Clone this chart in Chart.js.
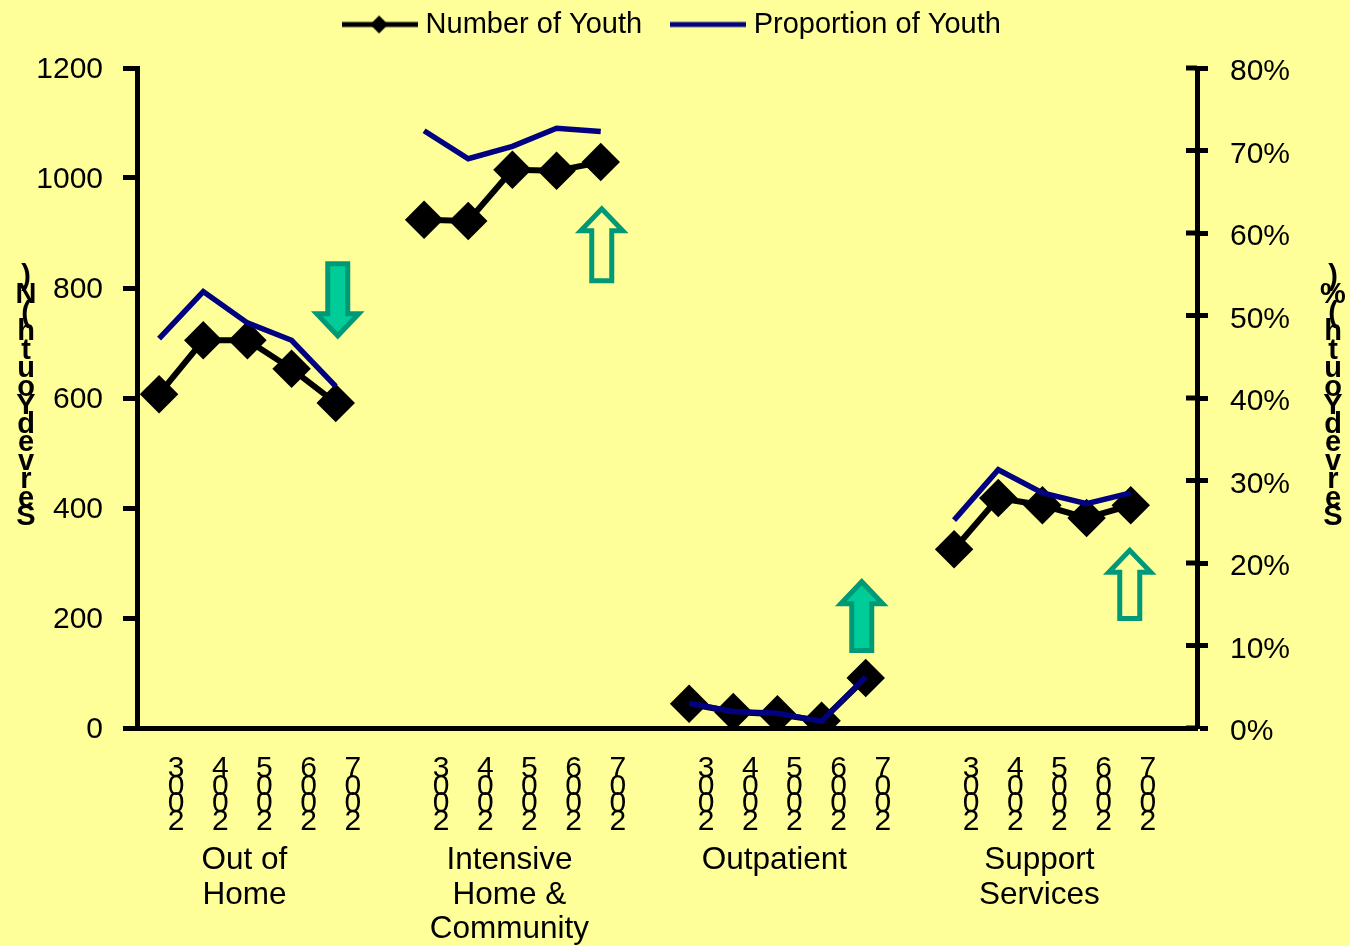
<!DOCTYPE html>
<html>
<head>
<meta charset="utf-8">
<script src="https://cdn.jsdelivr.net/npm/chart.js@4"></script>
<style>
  html, body { margin: 0; padding: 0; background: #FFFF99; }
  #wrap { width: 1350px; height: 946px; }
</style>
</head>
<body>
<div id="wrap"><canvas id="chart"></canvas></div>
<script>
const years = ['2003', '2004', '2005', '2006', '2007', '',
    '2003', '2004', '2005', '2006', '2007', '',
    '2003', '2004', '2005', '2006', '2007', '',
    '2003', '2004', '2005', '2006', '2007', ''];
const groupLabels = ['', '', ['Out of', 'Home'], '', '', '',
    '', '', ['Intensive', 'Home &', 'Community'], '', '', '',
    '', '', 'Outpatient', '', '', '',
    '', '', ['Support', 'Services'], '', '', ''];
const numberOfYouth = [607, 705, 705, 653, 591, null,
    924, 922, 1015, 1013, 1029, null,
    44, 29, 25, 13, 91, null,
    325, 418, 405, 382, 405, null];
const proportionOfYouth = [47.2, 52.9, 49.1, 47, 41.4, null,
    72.4, 69, 70.5, 72.7, 72.3, null,
    3, 2, 1.8, 0.8, 6.2, null,
    25.2, 31.3, 28.5, 27.2, 28.5, null];
const leftTitle = 'Served Youth (N)';
const rightTitle = 'Served Youth (%)';

const FONT = '"Liberation Sans", Arial, sans-serif';
const GREEN_FILL = '#00CC99';
const GREEN_LINE = '#009977';

// arrows sit at a category slot, from/to are in left axis units
const arrows = [
    { slot: 4, nudge: 2, from: 844, to: 713, filled: true },
    { slot: 10, nudge: 1, from: 813, to: 944, filled: false },
    { slot: 16, nudge: -4, from: 141, to: 266, filled: true },
    { slot: 22, nudge: -1, from: 199, to: 323, filled: false }
];

// legend swatches, the library draws these as point styles
function makeSwatch(color, diamond) {
    const c = document.createElement('canvas');
    c.width = 76;
    c.height = 20;
    const g = c.getContext('2d');
    g.strokeStyle = color;
    g.lineWidth = 5;
    g.beginPath();
    g.moveTo(0, 10);
    g.lineTo(76, 10);
    g.stroke();
    if (diamond) {
        g.fillStyle = color;
        g.beginPath();
        g.moveTo(37, 1);
        g.lineTo(46, 10);
        g.lineTo(37, 19);
        g.lineTo(28, 10);
        g.closePath();
        g.fill();
    }
    return c;
}

const decorations = {
    id: 'decorations',
    beforeInit(chart) {
        // fixed legend height so the plot starts where the reference does
        const fit = chart.legend.fit;
        chart.legend.fit = function() {
            fit.call(this);
            this.height = 93;
        };
    },
    afterDatasetsDraw(chart) {
        const ctx = chart.ctx;
        const x = chart.scales.x;
        const y = chart.scales.y;
        const y2 = chart.scales.y2;
        ctx.save();

        // inner half of the right axis ticks
        ctx.strokeStyle = '#000';
        ctx.lineWidth = 5;
        y2.ticks.forEach(t => {
            const py = y2.getPixelForValue(t.value);
            ctx.beginPath();
            ctx.moveTo(y2.left - 11, py);
            ctx.lineTo(y2.left, py);
            ctx.stroke();
        });

        // block arrows
        arrows.forEach(a => {
            const cx = x.getPixelForValue(a.slot) + a.nudge;
            const y0 = y.getPixelForValue(a.from);
            const y1 = y.getPixelForValue(a.to);
            const dir = y1 > y0 ? 1 : -1;
            const neck = y1 - dir * 22;
            ctx.beginPath();
            ctx.moveTo(cx - 10, y0);
            ctx.lineTo(cx + 10, y0);
            ctx.lineTo(cx + 10, neck);
            ctx.lineTo(cx + 21, neck);
            ctx.lineTo(cx, y1);
            ctx.lineTo(cx - 21, neck);
            ctx.lineTo(cx - 10, neck);
            ctx.closePath();
            if (a.filled) {
                ctx.fillStyle = GREEN_FILL;
                ctx.fill();
            }
            ctx.strokeStyle = GREEN_LINE;
            ctx.lineWidth = 5;
            ctx.stroke();
        });

        // stacked axis titles, read bottom to top
        ctx.fillStyle = '#000';
        ctx.font = 'bold 29px ' + FONT;
        ctx.textAlign = 'center';
        ctx.textBaseline = 'alphabetic';
        [[leftTitle, 26], [rightTitle, 1333]].forEach(([title, tx]) => {
            title.split('').filter(ch => ch !== ' ').forEach((ch, i) => {
                ctx.fillText(ch, tx, 525 - i * 18.5);
            });
        });
        ctx.restore();
    }
};

new Chart(document.getElementById('chart'), {
    type: 'line',
    plugins: [decorations],
    data: {
        labels: years,
        datasets: [
            {
                label: 'Proportion of Youth',
                data: proportionOfYouth,
                yAxisID: 'y2',
                borderColor: '#000080',
                backgroundColor: '#000080',
                borderWidth: 5.5,
                pointRadius: 0,
                tension: 0,
                order: 1
            },
            {
                label: 'Number of Youth',
                data: numberOfYouth,
                yAxisID: 'y',
                borderColor: '#000',
                backgroundColor: '#000',
                borderWidth: 6,
                pointRadius: 15,
                pointStyle: 'rectRot',
                tension: 0,
                order: 2
            }
        ]
    },
    options: {
        responsive: true,
        maintainAspectRatio: false,
        animation: false,
        layout: { padding: { top: -25 } },
        plugins: {
            tooltip: { enabled: false },
            legend: {
                position: 'top',
                labels: {
                    color: '#000',
                    font: { family: FONT, size: 29 },
                    usePointStyle: true,
                    pointStyleWidth: 62,
                    padding: 35,
                    sort: (a, b) => b.datasetIndex - a.datasetIndex,
                    generateLabels(chart) {
                        return chart.data.datasets.map((ds, i) => ({
                            text: ds.label,
                            datasetIndex: i,
                            fontColor: '#000',
                            lineWidth: 0,
                            strokeStyle: 'transparent',
                            fillStyle: 'transparent',
                            pointStyle: makeSwatch(ds.borderColor, ds.label === 'Number of Youth')
                        }));
                    }
                }
            }
        },
        scales: {
            x: {
                position: 'bottom',
                offset: true,
                afterFit(scale) { scale.height = 115; },
                grid: { display: false, drawTicks: false },
                border: { color: '#000', width: 5 },
                ticks: {
                    autoSkip: false,
                    maxRotation: 0,
                    minRotation: 0,
                    padding: 32,
                    labelOffset: 17,
                    color: '#000',
                    font: { family: FONT, size: 30, lineHeight: 0.585 },
                    callback(value) {
                        return this.getLabelForValue(value).split('').reverse();
                    }
                }
            },
            x2: {
                position: 'bottom',
                offset: true,
                labels: groupLabels,
                afterFit(scale) { scale.height = 103; },
                grid: { display: false, drawTicks: false },
                border: { display: false },
                ticks: {
                    autoSkip: false,
                    maxRotation: 0,
                    minRotation: 0,
                    padding: 0,
                    labelOffset: -3,
                    color: '#000',
                    font: { family: FONT, size: 31.5, lineHeight: 1.1 }
                }
            },
            y: {
                position: 'left',
                min: 0,
                max: 1200,
                afterFit(scale) { scale.width = 137; },
                grid: { drawOnChartArea: false, tickLength: 14, tickWidth: 5, tickColor: '#000' },
                border: { color: '#000', width: 5 },
                ticks: {
                    stepSize: 200,
                    padding: 20,
                    labelOffset: 2,
                    color: '#000',
                    font: { family: FONT, size: 30 },
                    callback: value => String(value)
                }
            },
            y2: {
                position: 'right',
                min: 0,
                max: 80,
                afterFit(scale) { scale.width = 153; },
                grid: { drawOnChartArea: false, tickLength: 11, tickWidth: 5, tickColor: '#000' },
                border: { color: '#000', width: 5 },
                ticks: {
                    stepSize: 10,
                    padding: 22,
                    labelOffset: 4,
                    color: '#000',
                    font: { family: FONT, size: 30 },
                    callback: value => value + '%'
                }
            }
        }
    }
});
</script>
</body>
</html>
